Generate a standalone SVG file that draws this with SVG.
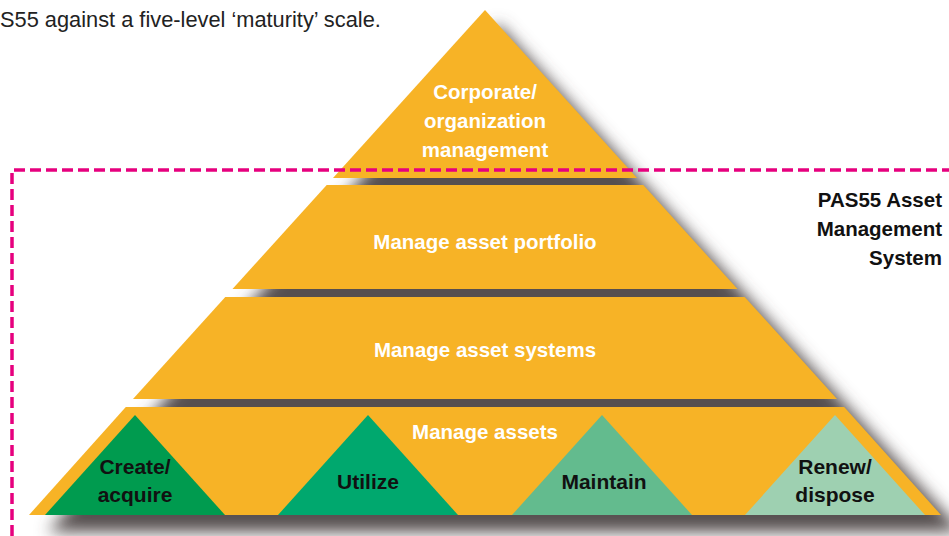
<svg xmlns="http://www.w3.org/2000/svg" width="949" height="536" viewBox="0 0 949 536">
<defs>
<filter id="blur" x="-20%" y="-20%" width="140%" height="140%">
<feGaussianBlur stdDeviation="8"/>
</filter>
<style>
.band{fill:#F7B326}
.wt{font-family:"Liberation Sans",Arial,sans-serif;font-weight:bold;font-size:20.5px;fill:#ffffff;text-anchor:middle}
.bt{font-family:"Liberation Sans",Arial,sans-serif;font-weight:bold;font-size:21px;fill:#111111;text-anchor:middle}
.rt{font-family:"Liberation Sans",Arial,sans-serif;font-weight:bold;font-size:20.5px;fill:#111111;text-anchor:end}
.cap{font-family:"Liberation Sans",Arial,sans-serif;font-size:21.8px;fill:#222222}
.dash{fill:none;stroke:#E6007E;stroke-width:3.5;stroke-dasharray:11 5}
</style>
</defs>
<rect width="949" height="536" fill="#ffffff"/>
<text class="cap" x="0" y="27">S55 against a five-level ‘maturity’ scale.</text>
<g id="shadow">
<polygon points="498,24 48,532 962,532" fill="#575050" filter="url(#blur)"/>
</g>
<g id="corporate">
<polygon class="band" points="485,10 333,178 637,178"/>
<text class="wt" x="485" y="99">Corporate/</text>
<text class="wt" x="485" y="128">organization</text>
<text class="wt" x="485" y="157">management</text>
</g>
<g id="portfolio">
<polygon class="band" points="326.7,185 643.3,185 737.5,289 232.5,289"/>
<text class="wt" x="485" y="249">Manage asset portfolio</text>
</g>
<g id="systems">
<polygon class="band" points="225.3,297 744.7,297 837,399 133,399"/>
<text class="wt" x="485" y="357">Manage asset systems</text>
</g>
<g id="assets">
<polygon class="band" points="125.8,407 844.2,407 941,515 29,515"/>
<text class="wt" x="485" y="439">Manage assets</text>
</g>
<g id="create">
<polygon points="135,415 45,515 225,515" fill="#009B4F"/>
<text class="bt" x="135" y="474">Create/</text>
<text class="bt" x="135" y="502">acquire</text>
</g>
<g id="utilize">
<polygon points="368,415 278,515 458,515" fill="#00A86E"/>
<text class="bt" x="368" y="489">Utilize</text>
</g>
<g id="maintain">
<polygon points="602,415 512,515 692,515" fill="#63BB8E"/>
<text class="bt" x="604" y="489">Maintain</text>
</g>
<g id="renew">
<polygon points="835,415 745,515 925,515" fill="#9ED0B1"/>
<text class="bt" x="835" y="474">Renew/</text>
<text class="bt" x="835" y="502">dispose</text>
</g>
<g id="pas55">
<path class="dash" d="M12,536 L12,170 L949,170"/>
<text class="rt" x="942" y="207">PAS55 Asset</text>
<text class="rt" x="942" y="236">Management</text>
<text class="rt" x="942" y="265">System</text>
</g>
</svg>
